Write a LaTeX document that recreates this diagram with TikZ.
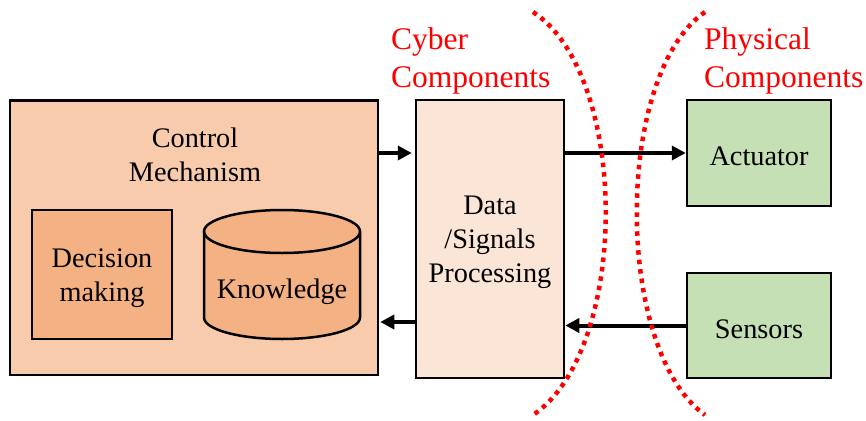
\documentclass[tikz,border=0pt]{standalone}
\usepackage{fontspec}
\setmainfont{Liberation Serif}
\usetikzlibrary{arrows.meta}
\definecolor{ctrlfill}{HTML}{F8CBAD}
\definecolor{innerfill}{HTML}{F4B183}
\definecolor{procfill}{HTML}{FBE5D6}
\definecolor{physfill}{HTML}{C5E0B4}
% extra head room on a box's first line
\newcommand{\headroom}{\rule{0pt}{26pt}}
\begin{document}
\begin{tikzpicture}[x=1pt,y=-1pt,
  box/.style={draw=black, line width=2.5pt, inner sep=0pt, align=center,
              font=\fontsize{28.3}{34}\selectfont},
  label/.style={inner sep=0pt, align=center, font=\fontsize{28.3}{34}\selectfont},
  flow/.style={line width=4pt, -{Triangle[length=14pt,width=14pt]}},
  boundary/.style={red, line width=4.5pt, dash pattern=on 4.5pt off 5pt},
  zone/.style={text=red, inner sep=0pt, align=left, font=\fontsize{31.5}{38}\selectfont}]
\useasboundingbox (0,0) rectangle (866,420);

% control mechanism with its two parts
\node[box, fill=ctrlfill, minimum width=368pt, minimum height=274.5pt] (ctrl) at (194,237.75) {};
\node[label] (ctrltitle) at (195,155) {Control\\Mechanism};
\node[box, fill=innerfill, minimum width=140pt, minimum height=129pt] (decision) at (102,274.5) {\headroom Decision\\making};

% knowledge store drawn as a cylinder
\fill[innerfill] (204,231.5) -- (204,317.5) arc (180:0:78 and 21.5) -- (360,231.5) arc (0:-180:78 and 21.5) -- cycle;
\draw[line width=2.5pt] (204,231.5) -- (204,317.5) arc (180:0:78 and 21.5) -- (360,231.5);
\draw[line width=2.5pt] (282,231.5) ellipse (78 and 21.5);
\node[label] (knowledge) at (282,291.5) {Knowledge};

% processing and physical devices
\node[box, fill=procfill, minimum width=148pt, minimum height=278pt] (proc) at (490,239) {\headroom Data\\/Signals\\Processing};
\node[box, fill=physfill, minimum width=144pt, minimum height=106pt] (act) at (759,153) {\headroom Actuator};
\node[box, fill=physfill, minimum width=144pt, minimum height=105pt] (sens) at (759,325.5) {\headroom Sensors};

% signal flow
\draw[flow, shorten >=3pt] (ctrl.east |- act.west) -- (proc.west |- act.west);
\draw[flow] (proc.east |- act.west) -- (act.west);
\draw[flow, shorten >=1pt] (proc.west |- 0,322) -- (ctrl.east |- 0,322);
\draw[flow] (sens.west) -- (proc.east |- sens.west);

% cyber / physical boundaries
\draw[boundary] (533,12) .. controls (630,75) and (630,350) .. (533,415);
\draw[boundary] (705,12) .. controls (614,75) and (614,350) .. (705,415);
\node[zone, anchor=north west] (cyber) at (391,27) {Cyber\\Components};
\node[zone, anchor=north west] (physical) at (704,27) {Physical\\Components};
\end{tikzpicture}
\end{document}
